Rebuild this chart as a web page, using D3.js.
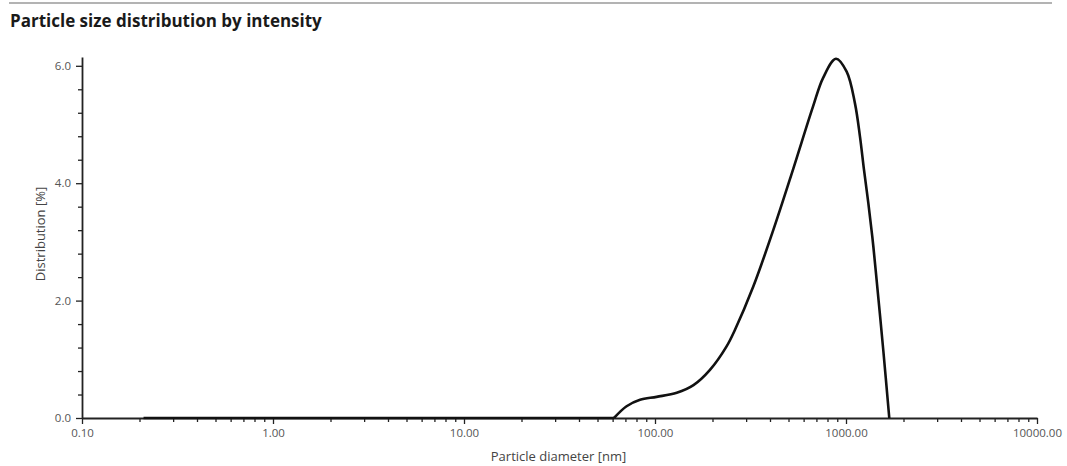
<!DOCTYPE html>
<html>
<head>
<meta charset="utf-8">
<script src="https://cdn.jsdelivr.net/npm/d3@7"></script>
<style>
  body { margin: 0; background: #fff; }
  text { font-family: "Open Sans", sans-serif; }
</style>
</head>
<body>
<div id="chart"></div>
<script>
// particle diameter [nm] and intensity distribution [%]
const sizes = [0.21, 61, 71, 83.5, 102, 130, 159, 194, 237, 262, 327, 416, 530, 671, 760, 886, 1008, 1114, 1184, 1242, 1309, 1373, 1430, 1568, 1685];
const values = [0, 0, 0.2, 0.31, 0.36, 0.43, 0.56, 0.82, 1.22, 1.5, 2.24, 3.2, 4.25, 5.3, 5.8, 6.12, 5.9, 5.36, 4.79, 4.23, 3.66, 3.09, 2.52, 1.15, 0];
const xTicks = [0.1, 1, 10, 100, 1000, 10000];
const yTicks = [0, 2, 4, 6];

const W = 1067, H = 466;
const m = { top: 57, right: 30, bottom: 48, left: 82 };
const w = 1037 - m.left, h = 418 - m.top;

const svg = d3.select('#chart')
  .append('svg')
  .attr('width', W)
  .attr('height', H);

// rule and title
svg.append('line')
  .attr('x1', 9).attr('x2', 1052)
  .attr('y1', 3).attr('y2', 3)
  .attr('stroke', '#9a9a9a')
  .attr('stroke-width', 1.5);

svg.append('text')
  .attr('x', 10)
  .attr('y', 27)
  .style('font-size', '17px')
  .style('font-weight', 'bold')
  .attr('fill', '#1a1a1a')
  .text('Particle size distribution by intensity');

const g = svg.append('g')
  .attr('transform', `translate(${m.left}, ${m.top})`);

const x = d3.scaleLog().domain([0.1, 10000]).range([0, w]);
const y = d3.scaleLinear().domain([0, 6.15]).range([h, 0]);

// minor ticks
const xMinor = [];
xTicks.slice(0, -1).forEach(d => { for (let k = 2; k < 10; k++) xMinor.push(d * k); });
const yMinor = d3.range(0, 6.01, 0.4).filter(v => !yTicks.some(t => Math.abs(t - v) < 1e-6));

g.append('g')
  .attr('transform', `translate(0, ${h})`)
  .call(d3.axisBottom(x).tickValues(xMinor).tickSize(4).tickFormat(''))
  .call(a => a.select('.domain').remove())
  .selectAll('line').attr('stroke', '#222').attr('stroke-width', 1.3);

g.append('g')
  .call(d3.axisLeft(y).tickValues(yMinor).tickSize(4).tickFormat(''))
  .call(a => a.select('.domain').remove())
  .selectAll('line').attr('stroke', '#222').attr('stroke-width', 1.3);

const xAxis = g.append('g')
  .attr('transform', `translate(0, ${h})`)
  .call(d3.axisBottom(x).tickValues(xTicks).tickSize(6).tickSizeOuter(0).tickPadding(5).tickFormat(d3.format('.2f')));

const yAxis = g.append('g')
  .call(d3.axisLeft(y).tickValues(yTicks).tickSize(6).tickSizeOuter(0).tickPadding(5).tickFormat(d3.format('.1f')));

[xAxis, yAxis].forEach(a => {
  a.select('.domain').attr('stroke', '#222').attr('stroke-width', 1.8);
  a.selectAll('.tick line').attr('stroke', '#222').attr('stroke-width', 1.3);
  a.selectAll('.tick text').attr('fill', '#555').style('font-size', '11.5px');
});

// axis titles
svg.append('text')
  .attr('x', m.left + w / 2 - 1)
  .attr('y', 461)
  .attr('text-anchor', 'middle')
  .attr('fill', '#444')
  .style('font-size', '13px')
  .text('Particle diameter [nm]');

svg.append('text')
  .attr('transform', 'translate(45, 234) rotate(-90)')
  .attr('text-anchor', 'middle')
  .attr('fill', '#444')
  .style('font-size', '13px')
  .text('Distribution [%]');

// curve: flat zero run, then the distribution
const data = sizes.map((s, i) => ({ s, v: values[i] }));
const start = values.findIndex(v => v > 0) - 1;

const flat = d3.line().x(d => x(d.s)).y(d => y(d.v));
const curve = d3.line().x(d => x(d.s)).y(d => y(d.v)).curve(d3.curveCatmullRom.alpha(0.5));

g.append('path')
  .datum(data.slice(0, start + 1))
  .attr('fill', 'none')
  .attr('stroke', '#111')
  .attr('stroke-width', 2.4)
  .attr('d', flat);

g.append('path')
  .datum(data.slice(start))
  .attr('fill', 'none')
  .attr('stroke', '#111')
  .attr('stroke-width', 2.6)
  .attr('stroke-linejoin', 'round')
  .attr('d', curve);
</script>
</body>
</html>
